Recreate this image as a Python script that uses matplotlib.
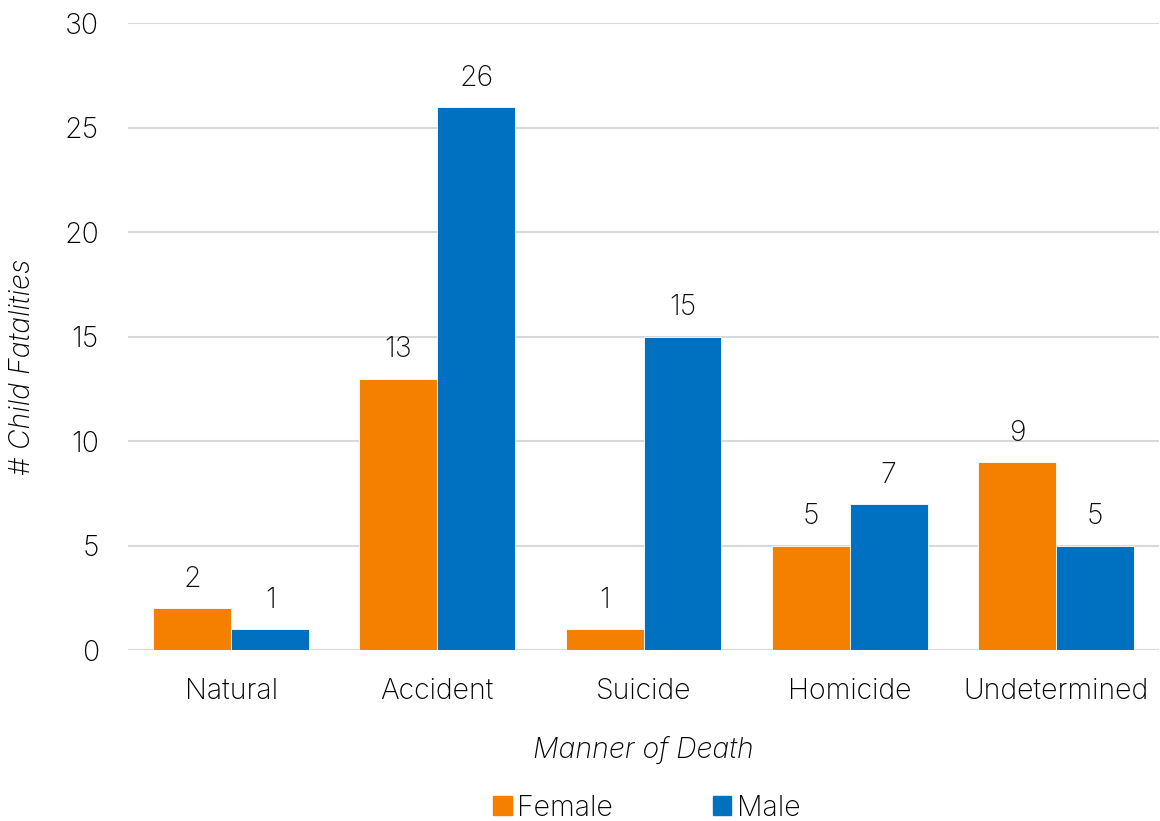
import numpy as np
import matplotlib
matplotlib.use('Agg')
import matplotlib.pyplot as plt
from matplotlib.patches import Patch

# data
categories = ['Natural', 'Accident', 'Suicide', 'Homicide', 'Undetermined']
female = [2, 13, 1, 5, 9]
male = [1, 26, 15, 7, 5]

orange = '#F58000'
blue = '#0070C0'

plt.rcParams['font.family'] = ['Inter', 'DejaVu Sans']
plt.rcParams['font.weight'] = 'light'
fs = 20.5

fig = plt.figure(figsize=(11.6, 8.21), dpi=100)
ax = fig.add_axes([128/1160, 1-650/821, (1159-128)/1160, (650-23.5)/821])

x = np.arange(len(categories))
w = 0.378
b1 = ax.bar(x - w/2, female, w, color=orange, edgecolor='white', linewidth=0.6, zorder=3)
b2 = ax.bar(x + w/2, male, w, color=blue, edgecolor='white', linewidth=0.6, zorder=3)

for bars in (b1, b2):
    ax.bar_label(bars, padding=11, fontsize=fs, color='#0d0d0d')

ax.set_xlim(-0.5, len(categories) - 0.5)
ax.set_ylim(0, 30)
ax.set_yticks(range(0, 31, 5))
ax.set_xticks(x)
ax.set_xticklabels(categories)
ax.tick_params(axis='both', length=0, labelsize=fs, colors='#000000')
ax.tick_params(axis='x', pad=20)
ax.tick_params(axis='y', pad=21)
ax.grid(axis='y', color='#D9D9D9', linewidth=1.5, zorder=0)
for s in ax.spines.values():
    s.set_visible(False)

fig.text(643/1160, 1-750/821, 'Manner of Death', ha='center', va='center',
         fontsize=fs, style='italic', color='#000000')
fig.text(22/1160, 1-367/821, '# Child Fatalities', ha='center', va='center',
         rotation=90, fontsize=fs, style='italic', color='#000000')

handles = [Patch(color=orange, label='Female'), Patch(color=blue, label='Male')]
fig.legend(handles=handles, loc='center', bbox_to_anchor=(647/1160, 1-808/821), ncol=2,
           frameon=False, fontsize=fs, handlelength=0.65, handleheight=0.65,
           handletextpad=0.2, columnspacing=3.5)

fig.savefig('out.png', dpi=100)
